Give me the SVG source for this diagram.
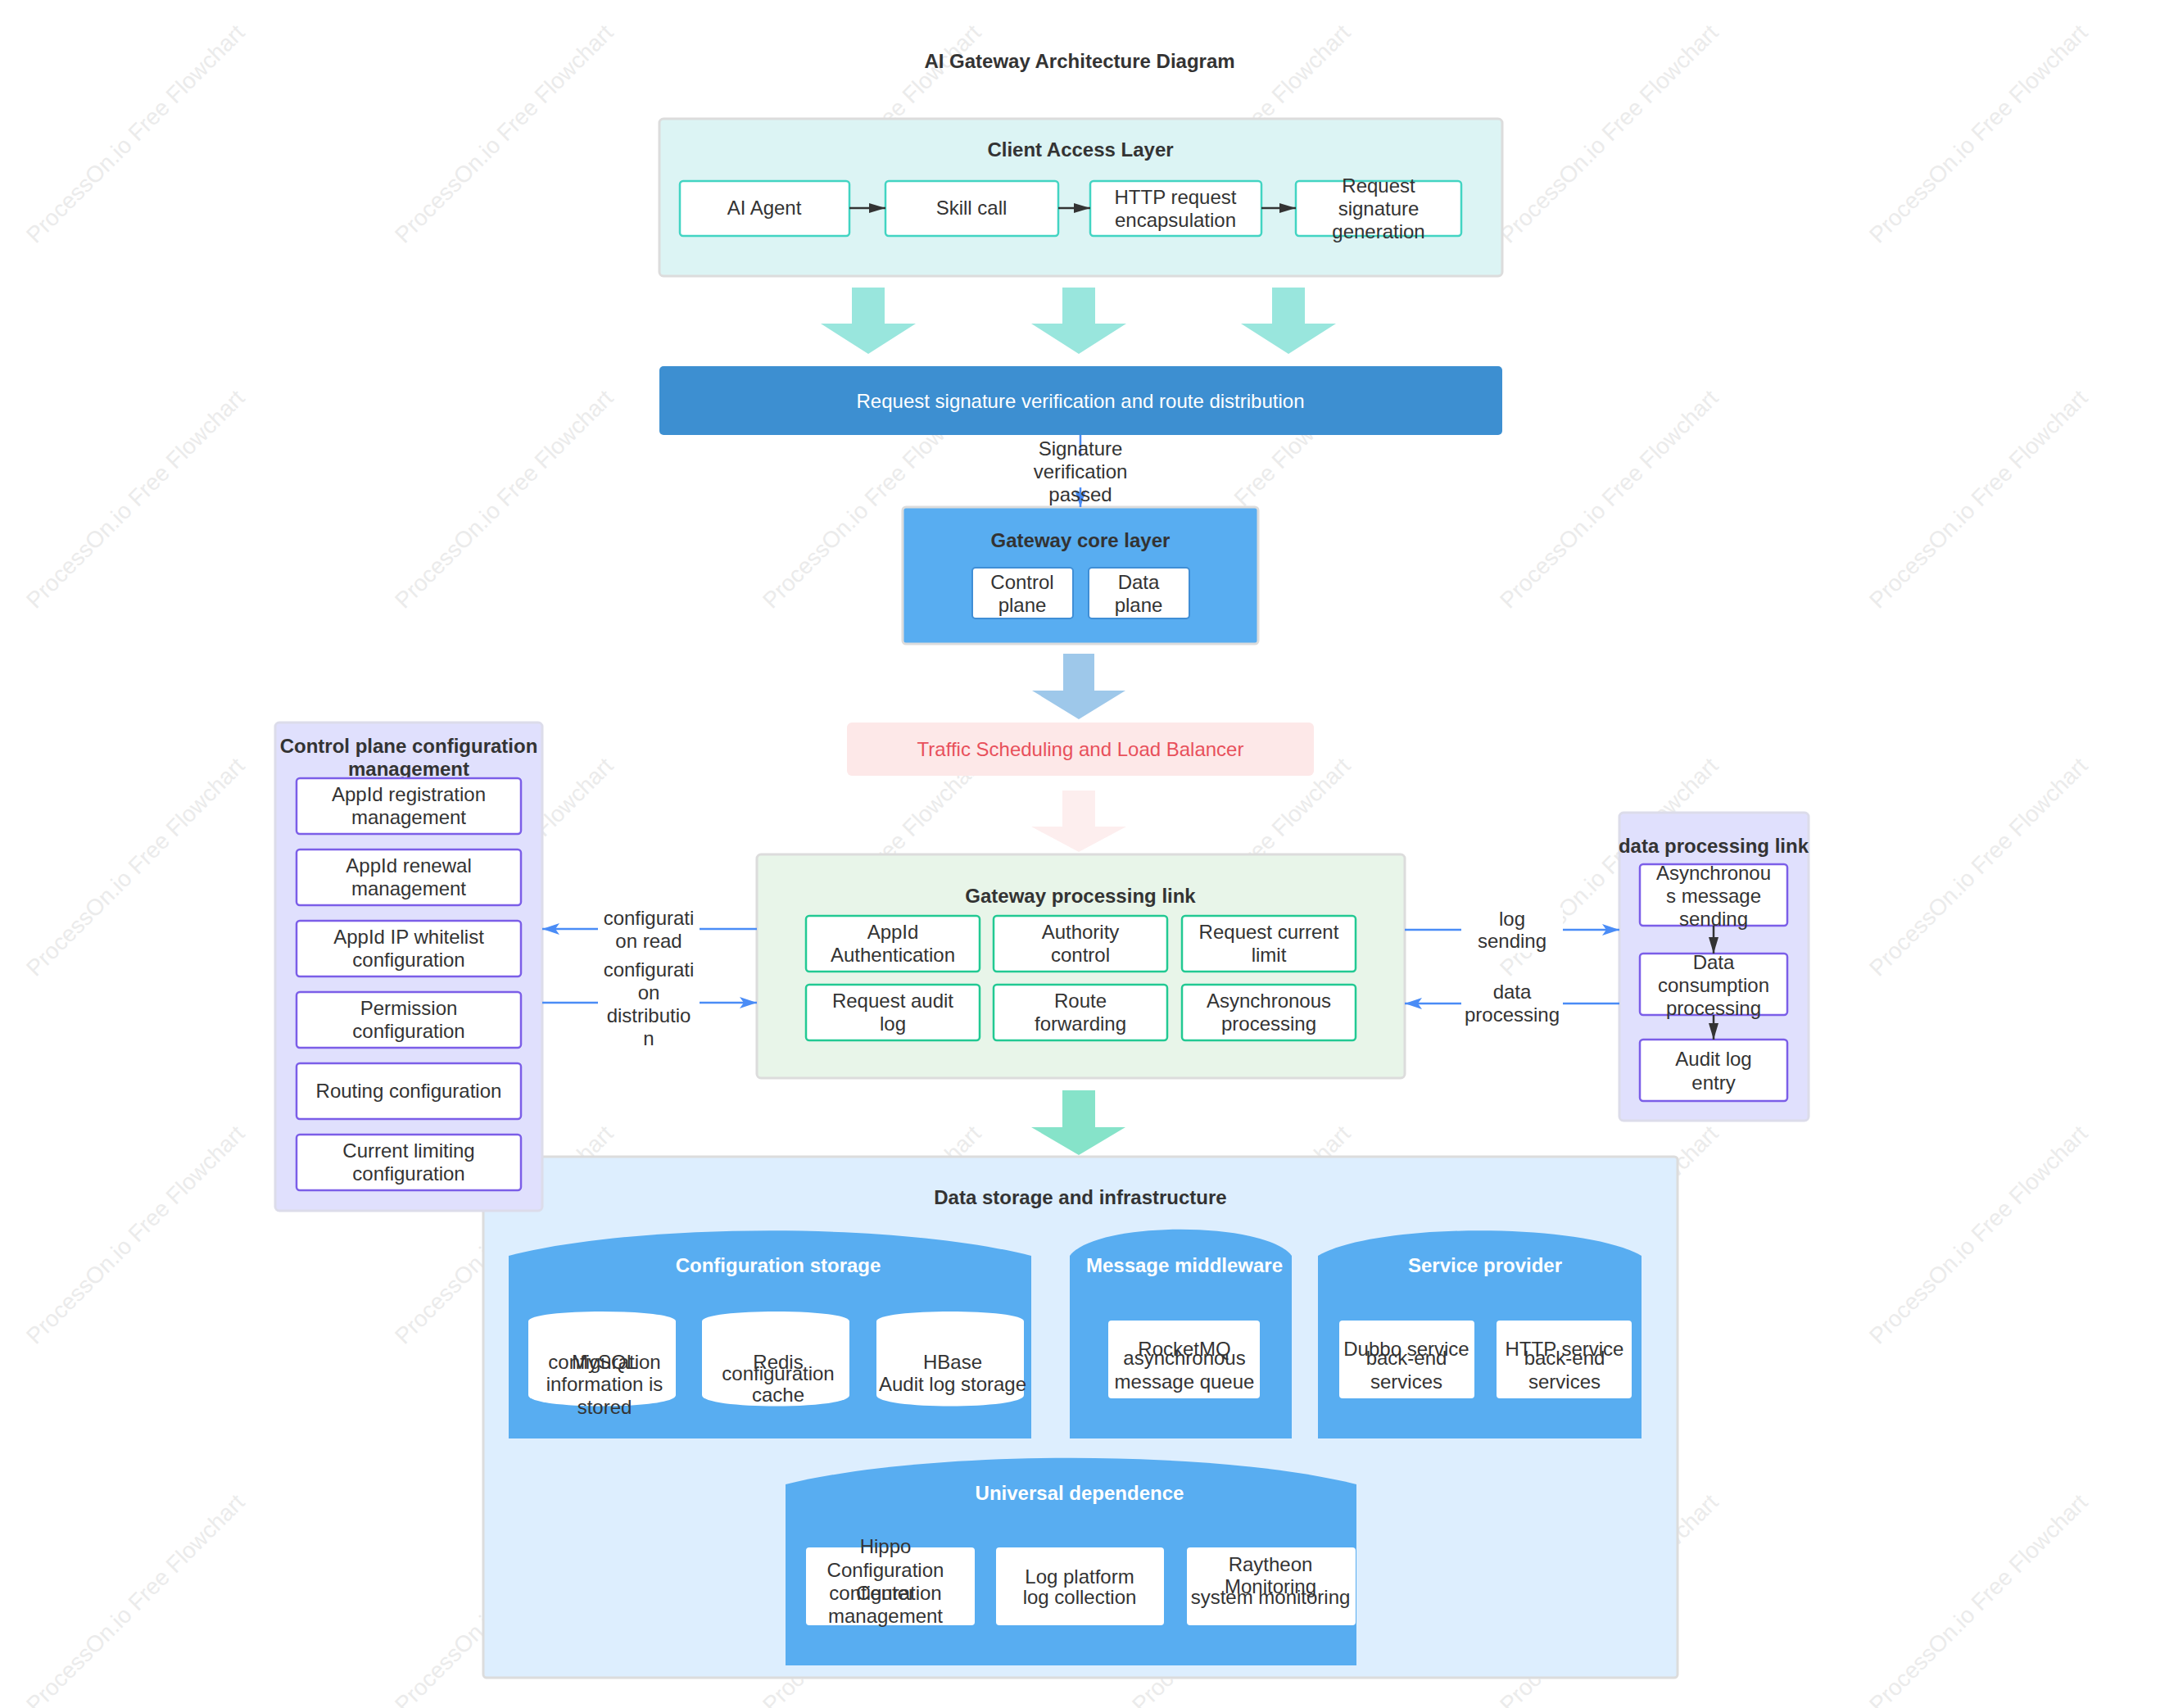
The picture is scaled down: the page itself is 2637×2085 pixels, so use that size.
<svg xmlns="http://www.w3.org/2000/svg" width="2637" height="2085" viewBox="0 0 2637 2085">
<defs>
<style>
text{font-family:"Liberation Sans",Arial,sans-serif;font-size:24px;fill:#333;text-anchor:middle}
.b{font-weight:bold}
.w{fill:#fff}
.red{fill:#e8505b}
.wm{fill:#ebebeb;font-size:28px}
.tealbox{fill:#fff;stroke:#42d4c2;stroke-width:2.5}
.greenbox{fill:#fff;stroke:#22c993;stroke-width:2.5}
.purplebox{fill:#fff;stroke:#7b5ee8;stroke-width:2.5}
.cont{stroke:#dcdcdc;stroke-width:3}
.blueshape{fill:#58adf1}
.conn{stroke:#4a8cf6;stroke-width:2.5;fill:none}
.dark{stroke:#333;stroke-width:2.5;fill:none}
.lbl{fill:#fff}
</style>
<marker id="ab" markerUnits="userSpaceOnUse" markerWidth="24" markerHeight="16" refX="21" refY="7" orient="auto"><path d="M0,0 L21,7 L0,14 L5,7 Z" fill="#4a8cf6"/></marker>
<marker id="ad" markerUnits="userSpaceOnUse" markerWidth="22" markerHeight="14" refX="20" refY="6" orient="auto"><path d="M0,0 L20,6 L0,12 Z" fill="#333"/></marker>
</defs>
<rect width="2637" height="2085" fill="#fff"/>
<g id="watermarks">
<text class="wm" x="172" y="170" transform="rotate(-45 172 170)">ProcessOn.io Free Flowchart</text>
<text class="wm" x="622" y="170" transform="rotate(-45 622 170)">ProcessOn.io Free Flowchart</text>
<text class="wm" x="1071" y="170" transform="rotate(-45 1071 170)">ProcessOn.io Free Flowchart</text>
<text class="wm" x="1522" y="170" transform="rotate(-45 1522 170)">ProcessOn.io Free Flowchart</text>
<text class="wm" x="1971" y="170" transform="rotate(-45 1971 170)">ProcessOn.io Free Flowchart</text>
<text class="wm" x="2422" y="170" transform="rotate(-45 2422 170)">ProcessOn.io Free Flowchart</text>
<text class="wm" x="172" y="616" transform="rotate(-45 172 616)">ProcessOn.io Free Flowchart</text>
<text class="wm" x="622" y="616" transform="rotate(-45 622 616)">ProcessOn.io Free Flowchart</text>
<text class="wm" x="1071" y="616" transform="rotate(-45 1071 616)">ProcessOn.io Free Flowchart</text>
<text class="wm" x="1522" y="616" transform="rotate(-45 1522 616)">ProcessOn.io Free Flowchart</text>
<text class="wm" x="1971" y="616" transform="rotate(-45 1971 616)">ProcessOn.io Free Flowchart</text>
<text class="wm" x="2422" y="616" transform="rotate(-45 2422 616)">ProcessOn.io Free Flowchart</text>
<text class="wm" x="172" y="1065" transform="rotate(-45 172 1065)">ProcessOn.io Free Flowchart</text>
<text class="wm" x="622" y="1065" transform="rotate(-45 622 1065)">ProcessOn.io Free Flowchart</text>
<text class="wm" x="1071" y="1065" transform="rotate(-45 1071 1065)">ProcessOn.io Free Flowchart</text>
<text class="wm" x="1522" y="1065" transform="rotate(-45 1522 1065)">ProcessOn.io Free Flowchart</text>
<text class="wm" x="1971" y="1065" transform="rotate(-45 1971 1065)">ProcessOn.io Free Flowchart</text>
<text class="wm" x="2422" y="1065" transform="rotate(-45 2422 1065)">ProcessOn.io Free Flowchart</text>
<text class="wm" x="172" y="1514" transform="rotate(-45 172 1514)">ProcessOn.io Free Flowchart</text>
<text class="wm" x="622" y="1514" transform="rotate(-45 622 1514)">ProcessOn.io Free Flowchart</text>
<text class="wm" x="1071" y="1514" transform="rotate(-45 1071 1514)">ProcessOn.io Free Flowchart</text>
<text class="wm" x="1522" y="1514" transform="rotate(-45 1522 1514)">ProcessOn.io Free Flowchart</text>
<text class="wm" x="1971" y="1514" transform="rotate(-45 1971 1514)">ProcessOn.io Free Flowchart</text>
<text class="wm" x="2422" y="1514" transform="rotate(-45 2422 1514)">ProcessOn.io Free Flowchart</text>
<text class="wm" x="172" y="1964" transform="rotate(-45 172 1964)">ProcessOn.io Free Flowchart</text>
<text class="wm" x="622" y="1964" transform="rotate(-45 622 1964)">ProcessOn.io Free Flowchart</text>
<text class="wm" x="1071" y="1964" transform="rotate(-45 1071 1964)">ProcessOn.io Free Flowchart</text>
<text class="wm" x="1522" y="1964" transform="rotate(-45 1522 1964)">ProcessOn.io Free Flowchart</text>
<text class="wm" x="1971" y="1964" transform="rotate(-45 1971 1964)">ProcessOn.io Free Flowchart</text>
<text class="wm" x="2422" y="1964" transform="rotate(-45 2422 1964)">ProcessOn.io Free Flowchart</text>
</g>

<text class="b" x="1318" y="83">AI Gateway Architecture Diagram</text>

<g id="client-layer">
<rect x="805" y="145" width="1029" height="192" rx="5" fill="#dcf4f4" class="cont"/>
<text class="b" x="1319" y="191">Client Access Layer</text>
</g>
<g id="ai-agent"><rect class="tealbox" x="830" y="221" width="207" height="67" rx="4"/><text x="933" y="262">AI Agent</text></g>
<g id="skill-call"><rect class="tealbox" x="1081" y="221" width="211" height="67" rx="4"/><text x="1186" y="262">Skill call</text></g>
<g id="http-encap"><rect class="tealbox" x="1331" y="221" width="209" height="67" rx="4"/><text x="1435" y="249">HTTP request</text><text x="1435" y="277">encapsulation</text></g>
<g id="sig-gen"><rect class="tealbox" x="1582" y="221" width="202" height="67" rx="4"/><text x="1683" y="235">Request</text><text x="1683" y="263">signature</text><text x="1683" y="291">generation</text></g>

<g id="big-arrows">
<polygon fill="#99e6dd" points="1040,351 1080,351 1080,395 1118,395 1060,432 1002,395 1040,395"/>
<polygon fill="#99e6dd" points="1297,351 1337,351 1337,395 1375,395 1317,432 1259,395 1297,395"/>
<polygon fill="#99e6dd" points="1553,351 1593,351 1593,395 1631,395 1573,432 1515,395 1553,395"/>
<polygon fill="#9ec8ea" points="1298,798 1336,798 1336,843 1374,843 1317,878 1260,843 1298,843"/>
<polygon fill="#fdeeee" points="1297,965 1337,965 1337,1009 1375,1009 1317,1040 1259,1009 1297,1009"/>
<polygon fill="#86e3c9" points="1297,1331 1337,1331 1337,1376 1374,1376 1317,1410 1259,1376 1297,1376"/>
</g>

<g id="verify-route">
<rect x="805" y="447" width="1029" height="84" rx="5" fill="#3d8fd1"/>
<text class="w" x="1319" y="498">Request signature verification and route distribution</text>
</g>

<g id="gateway-core">
<rect x="1102" y="619" width="434" height="167" rx="4" fill="#58adf1" class="cont"/>
<text class="b" x="1319" y="668">Gateway core layer</text>
</g>
<g id="control-plane"><rect x="1187" y="693" width="123" height="62" rx="4" fill="#fff" stroke="#3f8ed6" stroke-width="2"/><text x="1248" y="719">Control</text><text x="1248" y="747">plane</text></g>
<g id="data-plane"><rect x="1329" y="693" width="123" height="62" rx="4" fill="#fff" stroke="#3f8ed6" stroke-width="2"/><text x="1390" y="719">Data</text><text x="1390" y="747">plane</text></g>

<g id="traffic-lb">
<rect x="1034" y="882" width="570" height="65" rx="6" fill="#fde8e8"/>
<text class="red" x="1319" y="923">Traffic Scheduling and Load Balancer</text>
</g>

<g id="data-storage">
<rect x="590" y="1412" width="1458" height="636" rx="4" fill="#ddeefe" class="cont"/>
<text class="b" x="1319" y="1470">Data storage and infrastructure</text>
</g>
<g id="config-storage">
<path class="blueshape" d="M621,1533 C781,1492 1099,1492 1259,1533 L1259,1756 L621,1756 Z"/>
<text class="b w" x="950" y="1553">Configuration storage</text>
</g>
<g id="mysql">
<path fill="#fff" d="M645,1613 C645,1597 825,1597 825,1613 L825,1703 C825,1721 645,1721 645,1703 Z"/>
<text x="738" y="1671">MySQL</text>
<text x="738" y="1671">configuration</text><text x="738" y="1698">information is</text><text x="738" y="1726">stored</text>
</g>
<g id="redis">
<path fill="#fff" d="M857,1613 C857,1597 1037,1597 1037,1613 L1037,1703 C1037,1721 857,1721 857,1703 Z"/>
<text x="950" y="1671">Redis</text>
<text x="950" y="1685">configuration</text><text x="950" y="1711">cache</text>
</g>
<g id="hbase">
<path fill="#fff" d="M1070,1613 C1070,1597 1250,1597 1250,1613 L1250,1703 C1250,1721 1070,1721 1070,1703 Z"/>
<text x="1163" y="1671">HBase</text>
<text x="1163" y="1698">Audit log storage</text>
</g>
<g id="message-middleware">
<path class="blueshape" d="M1306,1533 C1338,1490 1545,1490 1577,1533 L1577,1756 L1306,1756 Z"/>
<text class="b w" x="1446" y="1553">Message middleware</text>
</g>
<g id="rocketmq">
<rect x="1353" y="1612" width="185" height="95" rx="4" fill="#fff"/>
<text x="1446" y="1655">RocketMQ</text>
<text x="1446" y="1666">asynchronous</text><text x="1446" y="1695">message queue</text>
</g>
<g id="service-provider">
<path class="blueshape" d="M1609,1533 C1680,1492 1933,1492 2004,1533 L2004,1756 L1609,1756 Z"/>
<text class="b w" x="1813" y="1553">Service provider</text>
</g>
<g id="dubbo">
<rect x="1635" y="1612" width="165" height="95" rx="4" fill="#fff"/>
<text x="1717" y="1655">Dubbo service</text>
<text x="1717" y="1666">back-end</text><text x="1717" y="1695">services</text>
</g>
<g id="http-service">
<rect x="1827" y="1612" width="165" height="95" rx="4" fill="#fff"/>
<text x="1910" y="1655">HTTP service</text>
<text x="1910" y="1666">back-end</text><text x="1910" y="1695">services</text>
</g>
<g id="universal">
<path class="blueshape" d="M959,1812 C1133,1769 1482,1769 1656,1812 L1656,2033 L959,2033 Z"/>
<text class="b w" x="1318" y="1831">Universal dependence</text>
</g>
<g id="hippo">
<rect x="984" y="1889" width="206" height="95" rx="4" fill="#fff"/>
<text x="1081" y="1896">Hippo</text><text x="1081" y="1925">Configuration</text><text x="1081" y="1953">Center</text>
<text x="1081" y="1953">configuration</text><text x="1081" y="1981">management</text>
</g>
<g id="log-platform">
<rect x="1216" y="1889" width="205" height="95" rx="4" fill="#fff"/>
<text x="1318" y="1933">Log platform</text><text x="1318" y="1958">log collection</text>
</g>
<g id="raytheon">
<rect x="1449" y="1889" width="206" height="95" rx="4" fill="#fff"/>
<text x="1551" y="1918">Raytheon</text><text x="1551" y="1945">Monitoring</text>
<text x="1551" y="1958">system monitoring</text>
</g>

<g id="control-config">
<rect x="336" y="882" width="326" height="596" rx="5" fill="#e0e0fd" stroke="#dcdcea" stroke-width="3"/>
<text class="b" x="499" y="919">Control plane configuration</text>
<text class="b" x="499" y="947">management</text>
</g>
<g id="cc1"><rect class="purplebox" x="362" y="950" width="274" height="68" rx="4"/><text x="499" y="978">AppId registration</text><text x="499" y="1006">management</text></g>
<g id="cc2"><rect class="purplebox" x="362" y="1037" width="274" height="68" rx="4"/><text x="499" y="1065">AppId renewal</text><text x="499" y="1093">management</text></g>
<g id="cc3"><rect class="purplebox" x="362" y="1124" width="274" height="68" rx="4"/><text x="499" y="1152">AppId IP whitelist</text><text x="499" y="1180">configuration</text></g>
<g id="cc4"><rect class="purplebox" x="362" y="1211" width="274" height="68" rx="4"/><text x="499" y="1239">Permission</text><text x="499" y="1267">configuration</text></g>
<g id="cc5"><rect class="purplebox" x="362" y="1298" width="274" height="68" rx="4"/><text x="499" y="1340">Routing configuration</text></g>
<g id="cc6"><rect class="purplebox" x="362" y="1385" width="274" height="68" rx="4"/><text x="499" y="1413">Current limiting</text><text x="499" y="1441">configuration</text></g>

<g id="gateway-link">
<rect x="924" y="1043" width="791" height="273" rx="5" fill="#e8f5e9" class="cont"/>
<text class="b" x="1319" y="1102">Gateway processing link</text>
</g>
<g id="gl1"><rect class="greenbox" x="984" y="1118" width="212" height="68" rx="4"/><text x="1090" y="1146">AppId</text><text x="1090" y="1174">Authentication</text></g>
<g id="gl2"><rect class="greenbox" x="1213" y="1118" width="212" height="68" rx="4"/><text x="1319" y="1146">Authority</text><text x="1319" y="1174">control</text></g>
<g id="gl3"><rect class="greenbox" x="1443" y="1118" width="212" height="68" rx="4"/><text x="1549" y="1146">Request current</text><text x="1549" y="1174">limit</text></g>
<g id="gl4"><rect class="greenbox" x="984" y="1202" width="212" height="68" rx="4"/><text x="1090" y="1230">Request audit</text><text x="1090" y="1258">log</text></g>
<g id="gl5"><rect class="greenbox" x="1213" y="1202" width="212" height="68" rx="4"/><text x="1319" y="1230">Route</text><text x="1319" y="1258">forwarding</text></g>
<g id="gl6"><rect class="greenbox" x="1443" y="1202" width="212" height="68" rx="4"/><text x="1549" y="1230">Asynchronous</text><text x="1549" y="1258">processing</text></g>

<g id="data-link">
<rect x="1977" y="992" width="231" height="376" rx="5" fill="#e0e0fd" stroke="#dcdcea" stroke-width="3"/>
<text class="b" x="2092" y="1041">data processing link</text>
</g>
<g id="dl1"><rect class="purplebox" x="2002" y="1055" width="180" height="75" rx="4"/><text x="2092" y="1074">Asynchronou</text><text x="2092" y="1102">s message</text><text x="2092" y="1130">sending</text></g>
<g id="dl2"><rect class="purplebox" x="2002" y="1164" width="180" height="75" rx="4"/><text x="2092" y="1183">Data</text><text x="2092" y="1211">consumption</text><text x="2092" y="1239">processing</text></g>
<g id="dl3"><rect class="purplebox" x="2002" y="1269" width="180" height="75" rx="4"/><text x="2092" y="1301">Audit log</text><text x="2092" y="1330">entry</text></g>

<g id="connectors">
<line class="dark" x1="1037" y1="254" x2="1081" y2="254" marker-end="url(#ad)"/>
<line class="dark" x1="1292" y1="254" x2="1331" y2="254" marker-end="url(#ad)"/>
<line class="dark" x1="1540" y1="254" x2="1582" y2="254" marker-end="url(#ad)"/>
<path class="conn" d="M1319,531 L1319,557 M1319,595 L1319,619" marker-end="url(#ab)"/>
<text x="1319" y="556">Signature</text>
<text x="1319" y="584">verification</text>
<text x="1319" y="612">passed</text>
<line class="conn" x1="924" y1="1134" x2="662" y2="1134" marker-end="url(#ab)"/>
<line class="conn" x1="662" y1="1224" x2="924" y2="1224" marker-end="url(#ab)"/>
<rect class="lbl" x="730" y="1107" width="124" height="56"/>
<rect class="lbl" x="730" y="1170" width="124" height="112"/>
<text x="792" y="1129">configurati</text><text x="792" y="1157">on read</text>
<text x="792" y="1192">configurati</text><text x="792" y="1220">on</text><text x="792" y="1248">distributio</text><text x="792" y="1276">n</text>
<line class="conn" x1="1715" y1="1135" x2="1977" y2="1135" marker-end="url(#ab)"/>
<line class="conn" x1="1977" y1="1225" x2="1715" y2="1225" marker-end="url(#ab)"/>
<rect class="lbl" x="1784" y="1108" width="124" height="55"/>
<rect class="lbl" x="1784" y="1197" width="124" height="56"/>
<text x="1846" y="1130">log</text><text x="1846" y="1157">sending</text>
<text x="1846" y="1219">data</text><text x="1846" y="1247">processing</text>
<line class="dark" x1="2092" y1="1130" x2="2092" y2="1164" marker-end="url(#ad)"/>
<line class="dark" x1="2092" y1="1239" x2="2092" y2="1269" marker-end="url(#ad)"/>
</g>
</svg>
